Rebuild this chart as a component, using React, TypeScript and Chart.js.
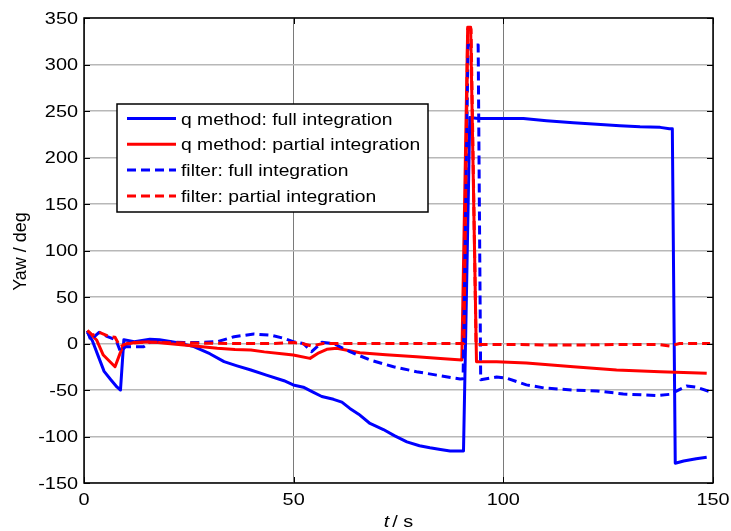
import React, { useEffect, useRef } from "react";
import { Chart, registerables } from "chart.js";

Chart.register(...registerables);

const xTicks = [0, 50, 100, 150];
const yTicks = [-150, -100, -50, 0, 50, 100, 150, 200, 250, 300, 350];

const seriesLabels = [
  "q method: full integration",
  "q method: partial integration",
  "filter: full integration",
  "filter: partial integration",
];
const yTitle = "Yaw / deg";
const xTitleVar = "t";
const xTitleUnit = "/ s";

const qFullT = [0.8, 2, 3.6, 4.8, 6.4, 7.9, 8.7, 9.5, 12, 15.7, 18, 22, 26.2, 30, 33.4, 36.5, 39.8, 43.5, 47.7, 49.9, 52.3, 54.5, 56.7, 59.5, 61.5, 63.4, 65.5, 68.2, 71.4, 74, 77, 80, 82.5, 85, 87.3, 90.5, 92, 94, 98, 104.8, 110.3, 116.7, 122.3, 127.8, 132.6, 137.4, 139.6, 140.3, 141, 143, 146, 148.5];
const qFullY = [12, 3, -16, -30, -39, -47, -50, 4, 2, 4.5, 4, 1, -3.4, -11, -19.5, -24, -28.5, -34, -40, -44.6, -47, -52, -57, -60, -63, -69.8, -76, -86, -92.5, -99, -105.8, -110, -112.2, -114, -115.5, -115.5, 243, 242, 242, 242, 239.6, 237.4, 235.7, 234.2, 233, 232.4, 231, 231, -128.8, -126.3, -124, -122.4];

const qPartT = [0.8, 3, 4.6, 7.4, 8.6, 9.4, 12, 15.9, 20, 23.8, 27, 31.8, 36, 39.8, 43, 47.7, 49.9, 53.9, 56, 57.9, 60.3, 65.8, 72, 79.3, 85, 90.1, 91.5, 92.2, 93.6, 98.4, 105.5, 116.7, 127, 137.4, 148.5];
const qPartY = [13.8, 3.8, -12.4, -25, -10.6, -1.6, 1, 2, 0, -1.6, -3, -5.2, -6.5, -7, -9, -11.3, -12.4, -16, -10, -6.3, -5.2, -9.9, -12, -14.2, -16, -17.7, 340, 340, -19.5, -19.5, -21, -25, -28.5, -30.3, -32];

const fFullT = [0.8, 1.6, 3.6, 5.6, 7.6, 8.7, 9.9, 14.3, 15.9, 20, 23.8, 27, 31.8, 35.8, 40.5, 44.5, 47.7, 49.9, 52.3, 54.3, 56.7, 59.5, 63.4, 68.2, 73.8, 79.3, 84.1, 89.7, 90.4, 91.6, 94.0, 94.6, 98.4, 100.8, 105.5, 110, 116.7, 122.3, 128.6, 136.6, 139.8, 143.7, 146, 149.3];
const fFullY = [13.8, 3.8, 12, 7.3, 4, -8.8, -3.4, -3.4, 2, 2, 1, 1, 2, 7.3, 10.2, 9, 5.5, 2, 0, -8.8, 1.3, 0, -8.8, -17.7, -25, -30.3, -34, -38.2, -38, 321, 321, -39, -36, -37.3, -44.5, -48, -50, -51, -54.3, -56, -54.6, -45.7, -47, -51.8];

const fPartT = [0.8, 2, 3.8, 6.2, 7.4, 8.6, 10.2, 15, 25, 35, 45, 50, 52, 54.3, 57, 65, 75, 85, 90.6, 91.5, 92.3, 93.5, 100, 110, 120, 130, 137, 139.8, 142, 149.3];
const fPartY = [13.8, 9, 11.6, 7.3, 6.7, -3.4, 0, 1.5, 0.5, 0, 0, 1, 0, -2.7, 0, 0, 0, 0, 0, 338, 338, -1, -1, -1.5, -1.5, -1, -1, -2.7, 0, 0];

const FONT = "'Liberation Sans', Arial, sans-serif";
const SX = 1.17;

const toPts = (t: number[], y: number[]) => t.map((v, i) => ({ x: v, y: y[i] }));

function sText(ctx: CanvasRenderingContext2D, text: string, x: number, y: number, align: CanvasTextAlign, sx: number) {
  ctx.save();
  ctx.translate(x, y);
  ctx.scale(sx, 1);
  ctx.textAlign = align;
  ctx.textBaseline = "middle";
  ctx.fillText(text, 0, 0);
  ctx.restore();
}

const decorPlugin = {
  id: "decor",
  afterDraw(chart: any) {
    const ctx = chart.ctx as CanvasRenderingContext2D;
    const { left, right, top, bottom } = chart.chartArea;
    const xs = chart.scales.x;
    const ys = chart.scales.y;
    ctx.save();
    // inward ticks
    ctx.strokeStyle = "#000";
    ctx.lineWidth = 1;
    ctx.beginPath();
    yTicks.forEach((v) => {
      const py = Math.round(ys.getPixelForValue(v)) + 0.5;
      ctx.moveTo(left, py);
      ctx.lineTo(left + 6, py);
      ctx.moveTo(right, py);
      ctx.lineTo(right - 6, py);
    });
    xTicks.forEach((v) => {
      const px = Math.round(xs.getPixelForValue(v)) + 0.5;
      ctx.moveTo(px, bottom);
      ctx.lineTo(px, bottom - 6);
      ctx.moveTo(px, top);
      ctx.lineTo(px, top + 6);
    });
    ctx.stroke();
    // frame
    ctx.lineWidth = 1.5;
    ctx.strokeRect(left, top, right - left, bottom - top);

    // tick labels
    ctx.fillStyle = "#000";
    ctx.font = `17px ${FONT}`;
    yTicks.forEach((v) => {
      sText(ctx, String(v), left - 6, ys.getPixelForValue(v) + 1, "right", SX);
    });
    xTicks.forEach((v) => {
      sText(ctx, String(v), xs.getPixelForValue(v), bottom + 17, "center", SX);
    });

    // x title
    const cx = (left + right) / 2;
    ctx.font = `italic 17px ${FONT}`;
    const tW = ctx.measureText(xTitleVar).width * SX;
    ctx.font = `17px ${FONT}`;
    const gap = 3;
    const rW = ctx.measureText(xTitleUnit).width * SX;
    const startX = cx - (tW + gap + rW) / 2;
    ctx.font = `italic 17px ${FONT}`;
    sText(ctx, xTitleVar, startX, 522, "left", SX);
    ctx.font = `17px ${FONT}`;
    sText(ctx, xTitleUnit, startX + tW + gap, 522, "left", SX);

    // y title
    ctx.save();
    ctx.translate(21, (top + bottom) / 2 + 1);
    ctx.rotate(-Math.PI / 2);
    ctx.font = `18px ${FONT}`;
    ctx.textAlign = "center";
    ctx.textBaseline = "middle";
    ctx.scale(1, 1.06);
    ctx.fillText(yTitle, 0, 0);
    ctx.restore();

    // legend
    const lx = left + 33;
    const ly = top + 86;
    const lw = 311;
    const lh = 108;
    ctx.fillStyle = "#fff";
    ctx.fillRect(lx, ly, lw, lh);
    ctx.strokeStyle = "#000";
    ctx.lineWidth = 1.5;
    ctx.strokeRect(lx, ly, lw, lh);
    const ds = chart.data.datasets;
    ctx.font = `16.5px ${FONT}`;
    seriesLabels.forEach((lab, i) => {
      const d = ds[i];
      const yy = ly + 14.5 + i * 25.8;
      ctx.strokeStyle = d.borderColor;
      ctx.lineWidth = 3;
      ctx.setLineDash(d.borderDash || []);
      ctx.beginPath();
      ctx.moveTo(lx + 10, yy);
      ctx.lineTo(lx + 59, yy);
      ctx.stroke();
      ctx.setLineDash([]);
      ctx.fillStyle = "#000";
      sText(ctx, lab, lx + 64, yy + 1.5, "left", SX);
    });
    ctx.restore();
  },
};

export default function App() {
  const ref = useRef<HTMLCanvasElement>(null);
  useEffect(() => {
    if (!ref.current) return;
    const common = {
      pointRadius: 0,
      borderWidth: 3,
      tension: 0,
      fill: false,
      borderJoinStyle: "round" as const,
    };
    const chart = new Chart(ref.current, {
      type: "line",
      data: {
        datasets: [
          { ...common, label: seriesLabels[0], data: toPts(qFullT, qFullY), borderColor: "#0000ff", order: 3 },
          { ...common, label: seriesLabels[1], data: toPts(qPartT, qPartY), borderColor: "#ff0000", order: 2 },
          { ...common, label: seriesLabels[2], data: toPts(fFullT, fFullY), borderColor: "#0000ff", borderDash: [9, 5], order: 1 },
          { ...common, label: seriesLabels[3], data: toPts(fPartT, fPartY), borderColor: "#ff0000", borderDash: [9, 5], order: 0 },
        ],
      },
      options: {
        responsive: false,
        animation: false,
        devicePixelRatio: 1,
        layout: { padding: { top: 18, right: 18, left: 0, bottom: 0 } },
        plugins: { legend: { display: false }, tooltip: { enabled: false } },
        scales: {
          x: {
            type: "linear",
            min: 0,
            max: 150,
            afterBuildTicks: (s: any) => {
              s.ticks = xTicks.map((v) => ({ value: v }));
            },
            afterFit: (s: any) => {
              s.height = 48;
            },
            ticks: { display: false },
            grid: { color: "#7a7a7a", lineWidth: 1, drawTicks: false },
            border: { display: false },
          },
          y: {
            type: "linear",
            min: -150,
            max: 350,
            afterBuildTicks: (s: any) => {
              s.ticks = yTicks.map((v) => ({ value: v }));
            },
            afterFit: (s: any) => {
              s.width = 84;
            },
            ticks: { display: false },
            grid: { color: "#b8b8b8", lineWidth: 1.5, drawTicks: false },
            border: { display: false },
          },
        },
      },
      plugins: [decorPlugin],
    });
    return () => chart.destroy();
  }, []);
  return (
    <div style={{ position: "absolute", left: 0, top: 0, width: 731, height: 531, background: "#fff" }}>
      <canvas ref={ref} width={731} height={531} />
    </div>
  );
}
